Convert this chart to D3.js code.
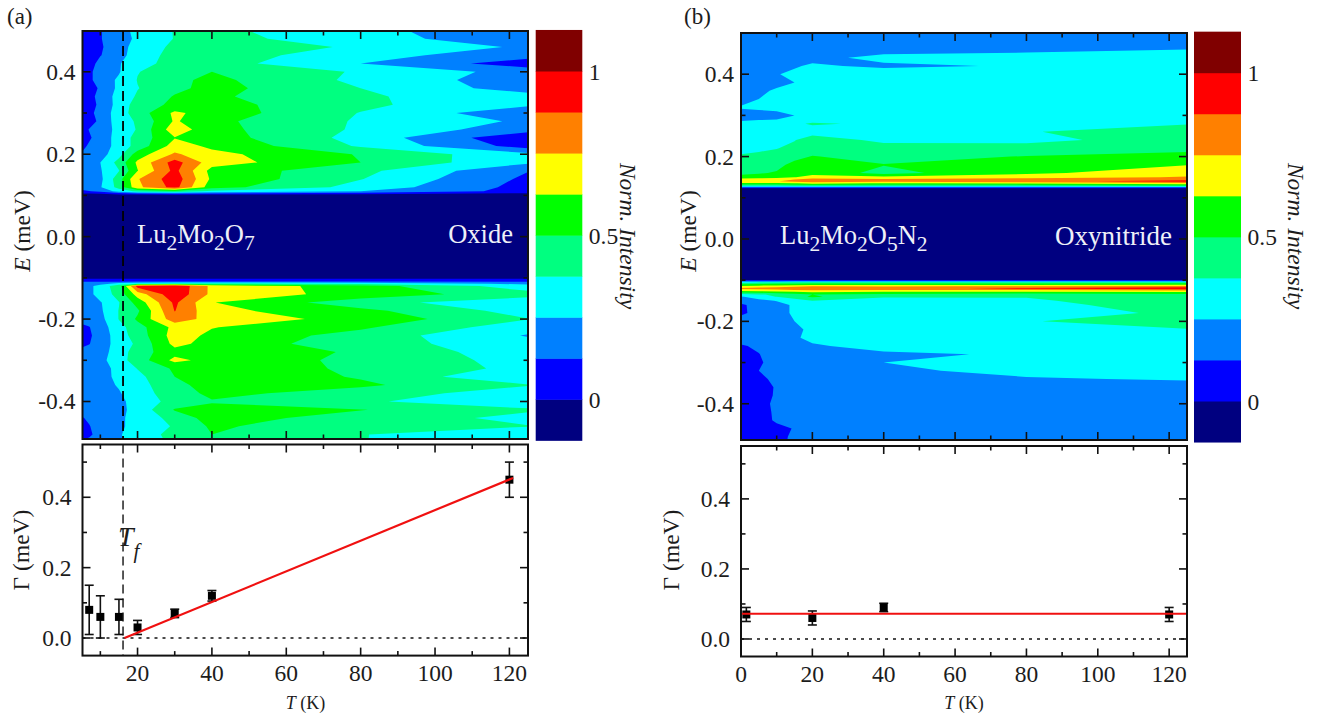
<!DOCTYPE html>
<html>
<head>
<meta charset="utf-8">
<style>
	body { margin: 0; background: #fff; }
	text { font-family: "Liberation Serif", serif; fill: #1c1c1c; }
</style>
<script src="https://cdn.jsdelivr.net/npm/d3@7"></script>
</head>
<body>
<svg id="fig" width="1321" height="717"></svg>
<script>
// contour levels and their colours, lowest first
var levels = [-0.125, 0, 0.125, 0.25, 0.375, 0.5, 0.625, 0.75, 0.875, 1];
var levelColors = ["#000080", "#0000ff", "#0080ff", "#00ffff", "#00ff80", "#00ff00", "#ffff00", "#ff8000", "#ff0000", "#800000"];
var barTicks = [1, 0.5, 0];

var eTicks = [0.4, 0.2, 0, -0.2, -0.4];
var eMinor = [0.3, 0.1, -0.1, -0.3];
var tTicks = [20, 40, 60, 80, 100, 120];
var tMinor = [10, 30, 50, 70, 90, 110];
var gTicks = [0.4, 0.2, 0];
var gMinor = [0.5, 0.3, 0.1];

// (a) oxide, normalised intensity
var oxideT = [5.2, 7, 10, 15, 20, 30, 40, 80, 125];
var oxideE = [0.5, 0.48, 0.46, 0.44, 0.42, 0.4, 0.38, 0.36, 0.34, 0.32, 0.3, 0.28, 0.26, 0.24, 0.22, 0.2, 0.18, 0.16, 0.14, 0.12, 0.11, 0.1,
	-0.1, -0.104, -0.109, -0.114, -0.12, -0.14, -0.16, -0.18, -0.2, -0.22, -0.24, -0.26, -0.28, -0.3, -0.32, -0.34, -0.36, -0.38, -0.4, -0.42, -0.44, -0.46, -0.48, -0.5];
var oxideI = [
	[.03,.06,.12,.18,.30,.38,.41,.27,.20],
	[.05,.06,.12,.18,.28,.38,.42,.30,.17],
	[.06,.07,.11,.20,.30,.40,.44,.36,.23],
	[.06,.08,.12,.20,.32,.41,.44,.30,.17],
	[.05,.08,.16,.24,.33,.42,.43,.25,.06],
	[.06,.10,.18,.24,.37,.44,.50,.36,.20],
	[.05,.10,.18,.27,.38,.47,.53,.345,.18],
	[.06,.08,.14,.28,.37,.47,.54,.375,.19],
	[.07,.09,.16,.30,.39,.51,.52,.39,.30],
	[.06,.08,.15,.30,.43,.53,.544,.40,.27],
	[.05,.10,.16,.32,.43,.65,.565,.37,.16],
	[.08,.08,.15,.32,.39,.64,.53,.36,.23],
	[.08,.13,.18,.29,.385,.70,.54,.355,.18],
	[.08,.11,.18,.30,.42,.62,.56,.33,.02],
	[.10,.14,.18,.30,.42,.68,.60,.36,.07],
	[.14,.15,.20,.33,.56,.77,.66,.49,.28],
	[.16,.18,.25,.42,.65,.93,.68,.50,.27],
	[.15,.17,.24,.37,.62,.91,.58,.41,.13],
	[.15,.14,.22,.45,.74,.95,.60,.38,.10],
	[.18,.18,.24,.42,.72,.92,.55,.33,.08],
	[.10,.12,.15,.30,.40,.45,.35,.25,.08],
	[-.1,-.1,-.1,-.1,-.1,-.1,-.1,-.1,-.1],
	[-.1,-.1,-.1,-.1,-.1,-.1,-.1,-.1,-.1],
	[.07,.07,.07,.07,.07,.07,.07,.07,.07],
	[.12,.12,.12,.12,.12,.12,.12,.12,.12],
	[.16,.18,.20,.30,.35,.40,.40,.35,.22],
	[.20,.22,.30,.45,.92,.98,.72,.56,.30],
	[.20,.22,.30,.42,.68,.97,.72,.57,.43],
	[.18,.20,.24,.37,.55,.90,.63,.427,.28],
	[.17,.18,.23,.38,.48,.88,.66,.535,.32],
	[.15,.17,.21,.38,.52,.82,.70,.58,.38],
	[.11,.12,.19,.33,.45,.66,.63,.52,.30],
	[.10,.11,.17,.32,.43,.68,.60,.45,.24],
	[.10,.12,.19,.30,.40,.66,.58,.43,.30],
	[.16,.18,.20,.31,.44,.58,.60,.48,.30],
	[.16,.18,.21,.33,.43,.66,.58,.47,.33],
	[.17,.19,.21,.28,.38,.52,.57,.48,.34],
	[.18,.20,.22,.27,.34,.50,.58,.49,.255],
	[.17,.19,.21,.26,.33,.46,.56,.52,.385],
	[.17,.19,.20,.24,.32,.44,.53,.45,.30],
	[.17,.18,.20,.22,.30,.42,.49,.39,.30],
	[.16,.17,.19,.22,.29,.51,.54,.505,.39],
	[.12,.14,.18,.24,.27,.43,.55,.45,.34],
	[.10,.12,.17,.24,.27,.39,.52,.41,.38],
	[.10,.11,.16,.24,.30,.42,.50,.38,.28],
	[.14,.15,.17,.24,.30,.40,.48,.38,.27]
];

// (b) oxynitride
var nitrideT = [0, 5, 10, 15, 20, 40, 80, 125];
var nitrideE = [0.5, 0.48, 0.46, 0.44, 0.42, 0.4, 0.38, 0.36, 0.34, 0.32, 0.3, 0.28, 0.26, 0.24, 0.22, 0.2, 0.18, 0.16, 0.15, 0.145, 0.14, 0.135, 0.13, 0.125, 0.122,
	-0.098, -0.102, -0.106, -0.11, -0.115, -0.12, -0.125, -0.13, -0.135, -0.14, -0.15, -0.16, -0.18, -0.2, -0.22, -0.24, -0.26, -0.28, -0.3, -0.32, -0.34, -0.36, -0.38, -0.4, -0.42, -0.44, -0.46, -0.48, -0.5];
var nitrideI = [
	[.17,.18,.20,.20,.20,.20,.20,.20],
	[.18,.18,.20,.20,.20,.20,.20,.20],
	[.19,.20,.21,.21,.21,.21,.22,.25],
	[.20,.20,.20,.21,.22,.28,.30,.30],
	[.19,.20,.22,.24,.265,.23,.26,.30],
	[.17,.19,.245,.27,.30,.31,.32,.33],
	[.17,.19,.21,.25,.30,.31,.32,.33],
	[.18,.22,.27,.30,.32,.33,.33,.34],
	[.20,.25,.28,.30,.31,.31,.32,.33],
	[.26,.27,.28,.29,.30,.30,.31,.33],
	[.21,.21,.22,.25,.28,.30,.32,.34],
	[.27,.28,.28,.36,.385,.36,.33,.37],
	[.29,.30,.30,.31,.33,.32,.37,.42],
	[.31,.32,.33,.37,.43,.35,.34,.44],
	[.31,.34,.37,.41,.46,.42,.43,.46],
	[.40,.42,.44,.47,.505,.46,.505,.55],
	[.43,.45,.47,.53,.56,.505,.56,.62],
	[.48,.49,.51,.55,.58,.46,.60,.70],
	[.53,.55,.58,.62,.68,.66,.70,.76],
	[.68,.69,.70,.74,.78,.76,.80,.84],
	[.72,.72,.74,.80,.82,.80,.84,.92],
	[.60,.60,.60,.62,.65,.62,.64,.70],
	[.40,.40,.42,.44,.46,.45,.45,.50],
	[.15,.15,.15,.15,.15,.15,.15,.15],
	[-.1,-.1,-.1,-.1,-.1,-.1,-.1,-.1],
	[-.1,-.1,-.1,-.1,-.1,-.1,-.1,-.1],
	[.15,.15,.15,.15,.15,.15,.15,.15],
	[.35,.38,.40,.42,.44,.44,.44,.44],
	[.50,.52,.54,.55,.56,.56,.57,.58],
	[.66,.68,.70,.72,.75,.74,.76,.80],
	[.78,.80,.82,.86,.87,.84,.90,.98],
	[.66,.68,.70,.72,.73,.72,.72,.74],
	[.50,.52,.55,.58,.60,.58,.56,.58],
	[.33,.36,.40,.44,.50,.46,.44,.47],
	[.24,.30,.38,.45,.52,.385,.38,.45],
	[.20,.22,.255,.30,.37,.34,.36,.44],
	[.10,.18,.20,.27,.32,.33,.34,.43],
	[.10,.17,.20,.27,.31,.33,.34,.39],
	[.19,.20,.22,.25,.30,.33,.37,.42],
	[.19,.20,.22,.22,.28,.31,.32,.37],
	[.19,.20,.21,.24,.27,.30,.31,.32],
	[.11,.15,.20,.22,.24,.28,.30,.31],
	[.08,.12,.20,.21,.23,.235,.26,.30],
	[.08,.11,.17,.20,.23,.25,.30,.30],
	[.09,.125,.17,.20,.21,.23,.28,.29],
	[.07,.10,.15,.18,.19,.20,.24,.26],
	[.05,.08,.135,.18,.19,.19,.19,.20],
	[.05,.09,.135,.17,.18,.18,.18,.18],
	[.05,.10,.14,.17,.18,.18,.18,.18],
	[.05,.09,.14,.16,.18,.18,.18,.18],
	[.05,.08,.14,.16,.18,.18,.18,.18],
	[.05,.07,.10,.13,.16,.18,.18,.18],
	[.05,.07,.10,.14,.16,.18,.18,.18],
	[.05,.07,.10,.145,.16,.18,.18,.18]
];

// linewidth vs temperature
var gammaOxT = [7, 10, 15, 20, 30, 40, 120];
var gammaOx = [0.08, 0.06, 0.06, 0.03, 0.07, 0.12, 0.45];
var gammaOxErr = [0.07, 0.06, 0.05, 0.02, 0.012, 0.015, 0.05];
var fitOxT = [16.5, 121];
var fitOx = [0, 0.455];

var gammaNiT = [1.5, 20, 40, 120];
var gammaNi = [0.07, 0.06, 0.09, 0.07];
var gammaNiErr = [0.02, 0.02, 0.012, 0.02];
var fitNiT = [0, 125];
var fitNi = [0.072, 0.072];

var tFreeze = 16.1;

var svg = d3.select("#fig");

// ticks pointing into a frame, on all four sides
function frame(g, x, y, xMaj, xMin, yMaj, yMin) {
	var x0 = x.range()[0], x1 = x.range()[1], y0 = y.range()[1], y1 = y.range()[0];
	function side(axis, scale, vals, tx, ty, len) {
		g.append("g")
			.attr("transform", "translate(" + tx + "," + ty + ")")
			.call(axis(scale).tickValues(vals).tickSize(-len).tickFormat("").offset(0))
			.call(s => s.select(".domain").remove())
			.selectAll("line").attr("stroke", "#111").attr("stroke-width", 1.6);
	}
	[[xMaj, 8], [xMin, 4.5]].forEach(function(t) {
		side(d3.axisBottom, x, t[0], 0, y1, t[1]);
		side(d3.axisTop, x, t[0], 0, y0, t[1]);
	});
	[[yMaj, 8], [yMin, 4.5]].forEach(function(t) {
		side(d3.axisLeft, y, t[0], x0, 0, t[1]);
		side(d3.axisRight, y, t[0], x1, 0, t[1]);
	});
	g.append("rect")
		.attr("x", x0).attr("y", y0)
		.attr("width", x1 - x0).attr("height", y1 - y0)
		.attr("fill", "none").attr("stroke", "#111").attr("stroke-width", 2);
}

function mapPanel(id, x, y, cols, rows, grid) {
	var nx = cols.length, ny = rows.length;

	// grid cell centres sit at i + 0.5 in d3.contours output
	var colAt = d3.scaleLinear()
		.domain([0].concat(cols.map((d, i) => i + 0.5), [nx]))
		.range([cols[0]].concat(cols, [cols[nx - 1]]));
	var rowAt = d3.scaleLinear()
		.domain([0].concat(rows.map((d, i) => i + 0.5), [ny]))
		.range([rows[0]].concat(rows, [rows[ny - 1]]));

	var path = d3.geoPath(d3.geoTransform({
		point: function(px, py) { this.stream.point(x(colAt(px)), y(rowAt(py))); }
	}));

	var contours = d3.contours()
		.size([nx, ny])
		.thresholds(levels)(d3.merge(grid));

	var clip = "clip-" + id;
	svg.append("clipPath").attr("id", clip).append("rect")
		.attr("x", x.range()[0]).attr("y", y.range()[1])
		.attr("width", x.range()[1] - x.range()[0])
		.attr("height", y.range()[0] - y.range()[1]);

	svg.append("g")
		.attr("clip-path", "url(#" + clip + ")")
		.selectAll("path")
		.data(contours)
	.enter().append("path")
		.attr("d", path)
		.attr("fill", (d, i) => levelColors[i]);

	frame(svg.append("g"), x, y, tTicks, tMinor, eTicks, eMinor);

	svg.append("g").selectAll("text")
		.data(eTicks)
	.enter().append("text")
		.attr("x", x.range()[0] - 7)
		.attr("y", d => y(d) + 8)
		.attr("text-anchor", "end")
		.style("font-size", "23.5px")
		.text(d => d.toFixed(1));
}

function colorBar(x0, x1, v, titleX) {
	svg.append("g").selectAll("rect")
		.data(levels)
	.enter().append("rect")
		.attr("x", x0)
		.attr("y", d => v(d + 0.125))
		.attr("width", x1 - x0)
		.attr("height", d => v(d) - v(d + 0.125) + 0.5)
		.attr("fill", (d, i) => levelColors[i]);

	svg.append("g").selectAll("text")
		.data(barTicks)
	.enter().append("text")
		.attr("x", x1 + 6.5)
		.attr("y", d => v(d) + 8.5)
		.style("font-size", "23.5px")
		.text(d => d);

	svg.append("text")
		.attr("transform", "translate(" + titleX + ",236) rotate(90)")
		.attr("text-anchor", "middle")
		.style("font-size", "23.5px")
		.style("font-style", "italic")
		.text("Norm. Intensity");
}

function gammaPanel(x, y, ts, gs, errs, fitT, fitG) {
	var g = svg.append("g");

	g.append("line")
		.attr("x1", x.range()[0]).attr("x2", x.range()[1])
		.attr("y1", y(0)).attr("y2", y(0))
		.attr("stroke", "#111").attr("stroke-width", 1.6)
		.attr("stroke-dasharray", "3,5");

	var pts = ts.map((t, i) => ({t: t, g: gs[i], e: errs[i]}));

	var bars = g.selectAll(".err").data(pts).enter().append("g").attr("class", "err");
	bars.append("line")
		.attr("x1", d => x(d.t)).attr("x2", d => x(d.t))
		.attr("y1", d => y(d.g - d.e)).attr("y2", d => y(d.g + d.e))
		.attr("stroke", "#111").attr("stroke-width", 1.6);
	[-1, 1].forEach(function(s) {
		bars.append("line")
			.attr("x1", d => x(d.t) - 4.5).attr("x2", d => x(d.t) + 4.5)
			.attr("y1", d => y(d.g + s * d.e)).attr("y2", d => y(d.g + s * d.e))
			.attr("stroke", "#111").attr("stroke-width", 1.6);
	});
	bars.append("rect")
		.attr("x", d => x(d.t) - 4).attr("y", d => y(d.g) - 4)
		.attr("width", 8).attr("height", 8)
		.attr("fill", "#000");

	g.append("path")
		.attr("d", d3.line().x(d => x(d[0])).y(d => y(d[1]))(d3.zip(fitT, fitG)))
		.attr("fill", "none")
		.attr("stroke", "#f01010")
		.attr("stroke-width", 2.2);

	frame(g, x, y, tTicks, tMinor, gTicks, gMinor);

	g.append("g").selectAll("text")
		.data(gTicks)
	.enter().append("text")
		.attr("x", x.range()[0] - 11)
		.attr("y", d => y(d) + 8)
		.attr("text-anchor", "end")
		.style("font-size", "23.5px")
		.text(d => d.toFixed(1));

	var labels = x.domain()[0] > 1 ? tTicks : [0].concat(tTicks);
	g.append("g").selectAll("text")
		.data(labels)
	.enter().append("text")
		.attr("x", d => x(d))
		.attr("y", y.range()[0] + 25)
		.attr("text-anchor", "middle")
		.style("font-size", "23.5px")
		.text(d => d);
}

// rotated axis title with an italic first part
function yTitle(x, cy, first, italic, rest) {
	var t = svg.append("text")
		.attr("transform", "translate(" + x + "," + cy + ") rotate(-90)")
		.attr("text-anchor", "middle")
		.style("font-size", "23.5px");
	t.append("tspan").style("font-style", italic ? "italic" : "normal").text(first);
	t.append("tspan").text(rest);
}

function tTitle(cx) {
	var t = svg.append("text")
		.attr("x", cx).attr("y", 709)
		.attr("text-anchor", "middle")
		.style("font-size", "18px");
	t.append("tspan").style("font-style", "italic").text("T");
	t.append("tspan").text(" (K)");
}

// formula text: each piece is [letters, subscript]
function formula(x, y, pieces) {
	var t = svg.append("text")
		.attr("x", x).attr("y", y)
		.style("font-size", "26.5px")
		.style("fill", "#eef0f8");
	pieces.forEach(function(p, i) {
		t.append("tspan").attr("dy", i ? -7 : 0).text(p[0]);
		t.append("tspan").attr("dy", 7).style("font-size", "21.5px").text(p[1]);
	});
}

var xA = d3.scaleLinear().domain([5.2, 125]).range([82.5, 528]);
var yA = d3.scaleLinear().domain([-0.491, 0.499]).range([439, 31]);
var gA = d3.scaleLinear().domain([-0.05, 0.55]).range([655.6, 444.5]);
var vA = d3.scaleLinear().domain([0, 1]).range([399.3, 71]);

var xB = d3.scaleLinear().domain([0, 125]).range([741, 1187]);
var yB = d3.scaleLinear().domain([-0.488, 0.5]).range([440, 33]);
var gB = d3.scaleLinear().domain([-0.05, 0.551]).range([656.5, 446]);
var vB = d3.scaleLinear().domain([0, 1]).range([401, 72.7]);

mapPanel("a", xA, yA, oxideT, oxideE, oxideI);
mapPanel("b", xB, yB, nitrideT, nitrideE, nitrideI);
colorBar(535.7, 582.3, vA, 620);
colorBar(1194, 1241, vB, 1288);
gammaPanel(xA, gA, gammaOxT, gammaOx, gammaOxErr, fitOxT, fitOx);
gammaPanel(xB, gB, gammaNiT, gammaNi, gammaNiErr, fitNiT, fitNi);

// freezing temperature marker through both panels
svg.append("line")
	.attr("x1", xA(tFreeze)).attr("x2", xA(tFreeze))
	.attr("y1", yA.range()[1]).attr("y2", yA.range()[0])
	.attr("stroke", "#000").attr("stroke-width", 1.8)
	.attr("stroke-dasharray", "10,5");
svg.append("line")
	.attr("x1", xA(tFreeze)).attr("x2", xA(tFreeze))
	.attr("y1", gA.range()[1]).attr("y2", gA.range()[0])
	.attr("stroke", "#111").attr("stroke-width", 1.4)
	.attr("stroke-dasharray", "9,5");

var tf = svg.append("text").attr("x", 118).attr("y", 546).style("font-style", "italic").style("font-size", "28px");
tf.append("tspan").text("T");
tf.append("tspan").attr("dy", 12).style("font-size", "21px").text("f");

yTitle(30, 231, "E", true, " (meV)");
yTitle(696, 231, "E", true, " (meV)");
yTitle(29, 550, "\u0393", false, " (meV)");
yTitle(679, 550, "\u0393", false, " (meV)");
tTitle(305.5);
tTitle(964);

svg.append("text").attr("x", 7).attr("y", 24).style("font-size", "23px").text("(a)");
svg.append("text").attr("x", 684).attr("y", 24).style("font-size", "23px").text("(b)");

formula(137, 243, [["Lu", "2"], ["Mo", "2"], ["O", "7"]]);
formula(780, 244, [["Lu", "2"], ["Mo", "2"], ["O", "5"], ["N", "2"]]);

svg.append("text").attr("x", 513).attr("y", 243).attr("text-anchor", "end")
	.style("font-size", "26.5px").style("fill", "#eef0f8").text("Oxide");
svg.append("text").attr("x", 1172).attr("y", 245).attr("text-anchor", "end")
	.style("font-size", "27px").style("fill", "#eef0f8").text("Oxynitride");
</script>
</body>
</html>
